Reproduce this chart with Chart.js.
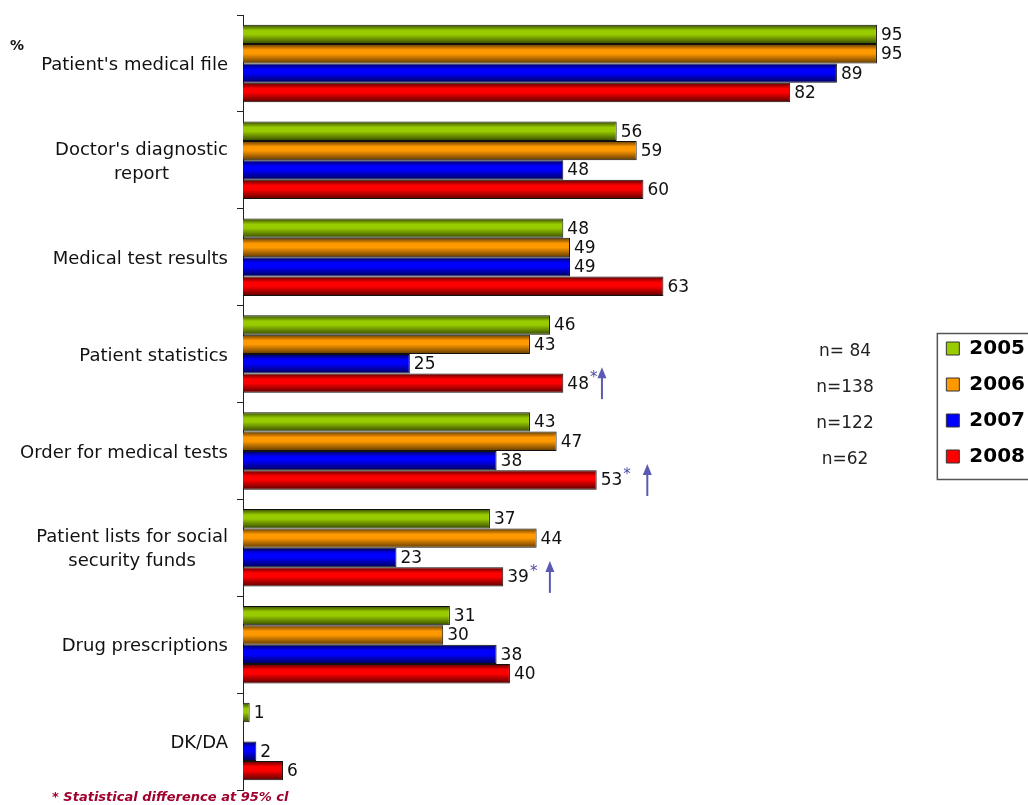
<!DOCTYPE html>
<html>
<head>
<meta charset="utf-8">
<script src="https://cdn.jsdelivr.net/npm/chart.js@4"></script>
<style>
  html, body { margin: 0; padding: 0; background: #fff; overflow: hidden; }
  #wrap { width: 1070px; height: 805px; }
</style>
</head>
<body>
<div id="wrap"><canvas id="chart" width="1070" height="805"></canvas></div>
<script>
const categories = [
    "Patient's medical file",
    ["Doctor's diagnostic", "report"],
    "Medical test results",
    "Patient statistics",
    "Order for medical tests",
    ["Patient lists for social", "security funds"],
    "Drug prescriptions",
    "DK/DA"
];
const years = ["2005", "2006", "2007", "2008"];
const values2005 = [95, 56, 48, 46, 43, 37, 31, 1];
const values2006 = [95, 59, 49, 43, 47, 44, 30, null];
const values2007 = [89, 48, 49, 25, 38, 23, 38, 2];
const values2008 = [82, 60, 63, 48, 53, 39, 40, 6];
const sampleSizes = ["n= 84", "n=138", "n=122", "n=62"];
// rows of the 2008 series marked as significant
const significantRows = [3, 4, 5];
const footnote = "* Statistical difference at 95% cl";

const baseColors = ["#99cc00", "#ff9900", "#0000ff", "#ff0000"];
const darkColors = ["#354800", "#603900", "#000058", "#580000"];

// cylinder-like shading, computed from the category scale
function barFill(ctx) {
    const i = ctx.datasetIndex;
    const chart = ctx.chart;
    const y = chart.scales.y;
    if (ctx.type !== "data" || !y || !chart.chartArea) return baseColors[i];
    const catH = y.height / categories.length;
    const barH = catH * 0.8 / years.length;
    const top = y.getPixelForValue(ctx.dataIndex) - catH * 0.4 + i * barH;
    const g = chart.ctx.createLinearGradient(0, top, 0, top + barH);
    g.addColorStop(0, darkColors[i]);
    g.addColorStop(0.3, baseColors[i]);
    g.addColorStop(0.5, baseColors[i]);
    g.addColorStop(1, darkColors[i]);
    return g;
}

const allSeries = [values2005, values2006, values2007, values2008];

const extras = {
    id: "extras",
    afterDatasetsDraw(chart) {
        const ctx = chart.ctx;
        ctx.save();
        ctx.font = "17px 'DejaVu Sans'";
        ctx.textBaseline = "middle";
        ctx.textAlign = "left";
        chart.data.datasets.forEach((ds, di) => {
            const meta = chart.getDatasetMeta(di);
            meta.data.forEach((bar, idx) => {
                const v = ds.data[idx];
                if (v == null) return;
                const txt = String(v);
                const w = ctx.measureText(txt).width;
                const x = bar.x + 4;
                ctx.fillStyle = "#fff";
                ctx.fillRect(x - 1, bar.y - 8, w + 2, 17);
                ctx.fillStyle = "#111";
                ctx.fillText(txt, x, bar.y + 1);
            });
        });

        // significance marks on 2008
        const gaps = [13, 25, 21];
        const meta = chart.getDatasetMeta(3);
        significantRows.forEach((row, k) => {
            const bar = meta.data[row];
            ctx.font = "17px 'DejaVu Sans'";
            const end = bar.x + 4 + ctx.measureText(String(values2008[row])).width;
            ctx.font = "italic 15px 'DejaVu Sans'";
            ctx.fillStyle = "#4a4aa8";
            ctx.fillText("*", end + 1, bar.y - 5);
            const ax = end + gaps[k];
            ctx.strokeStyle = "#5a5ab4";
            ctx.lineWidth = 2;
            ctx.beginPath();
            ctx.moveTo(ax, bar.y + 16);
            ctx.lineTo(ax, bar.y - 8);
            ctx.stroke();
            ctx.fillStyle = "#5a5ab4";
            ctx.beginPath();
            ctx.moveTo(ax, bar.y - 16);
            ctx.lineTo(ax - 4.5, bar.y - 5);
            ctx.lineTo(ax + 4.5, bar.y - 5);
            ctx.closePath();
            ctx.fill();
        });
        ctx.restore();
    },
    afterDraw(chart) {
        const ctx = chart.ctx;
        const y = chart.scales.y;
        ctx.save();

        // category labels: right aligned blocks, lines centred inside
        ctx.font = "18px 'DejaVu Sans'";
        ctx.fillStyle = "#111";
        ctx.textBaseline = "middle";
        ctx.textAlign = "center";
        categories.forEach((label, i) => {
            const lines = Array.isArray(label) ? label : [label];
            const widest = Math.max(...lines.map(l => ctx.measureText(l).width));
            const cx = chart.chartArea.left - 15 - widest / 2;
            const cy = y.getPixelForValue(i) + 2;
            lines.forEach((l, j) => {
                ctx.fillText(l, cx, cy + (j - (lines.length - 1) / 2) * 24);
            });
        });

        ctx.font = "bold 14px 'DejaVu Sans'";
        ctx.textAlign = "left";
        ctx.fillText("%", 10, 46);

        // sample sizes beside the legend rows
        const legend = chart.legend;
        ctx.font = "17px 'DejaVu Sans'";
        ctx.textAlign = "center";
        ctx.fillStyle = "#222";
        legend.legendHitBoxes.forEach((hb, i) => {
            ctx.fillText(sampleSizes[i], 845, hb.top + hb.height / 2 + 3);
        });

        // legend frame
        const first = legend.legendHitBoxes[0];
        const last = legend.legendHitBoxes[legend.legendHitBoxes.length - 1];
        ctx.strokeStyle = "#555";
        ctx.lineWidth = 1.5;
        ctx.strokeRect(first.left - 9, first.top - 5, 200, last.top + last.height - first.top + 18);

        ctx.font = "italic bold 13px 'DejaVu Sans'";
        ctx.fillStyle = "#a0002c";
        ctx.textAlign = "left";
        ctx.fillText(footnote, 52, 798);
        ctx.restore();
    }
};

new Chart(document.getElementById("chart"), {
    type: "bar",
    data: {
        labels: categories,
        datasets: years.map((yr, i) => ({
            label: yr,
            data: allSeries[i],
            backgroundColor: barFill,
            borderColor: "#111",
            borderWidth: 1,
            categoryPercentage: 0.8,
            barPercentage: 1.0
        }))
    },
    options: {
        indexAxis: "y",
        responsive: false,
        animation: false,
        layout: { padding: { top: 15, bottom: 15, left: 0, right: 35 } },
        scales: {
            x: { display: false, min: 0, max: 103 },
            y: {
                afterFit: scale => { scale.width = 243; },
                border: { color: "#222", width: 1 },
                grid: { drawOnChartArea: false, color: "#222", tickLength: 6, offset: true },
                ticks: { color: "rgba(0,0,0,0)" }
            }
        },
        plugins: {
            tooltip: { enabled: false },
            legend: {
                position: "right",
                labels: {
                    boxWidth: 13,
                    boxHeight: 13,
                    padding: 16,
                    color: "#000",
                    font: { family: "'DejaVu Sans'", size: 20, weight: "bold" },
                    generateLabels: chart => chart.data.datasets.map((ds, i) => ({
                        text: ds.label,
                        fillStyle: baseColors[i],
                        strokeStyle: "#333",
                        lineWidth: 1,
                        datasetIndex: i
                    }))
                }
            }
        }
    },
    plugins: [extras]
});
</script>
</body>
</html>
